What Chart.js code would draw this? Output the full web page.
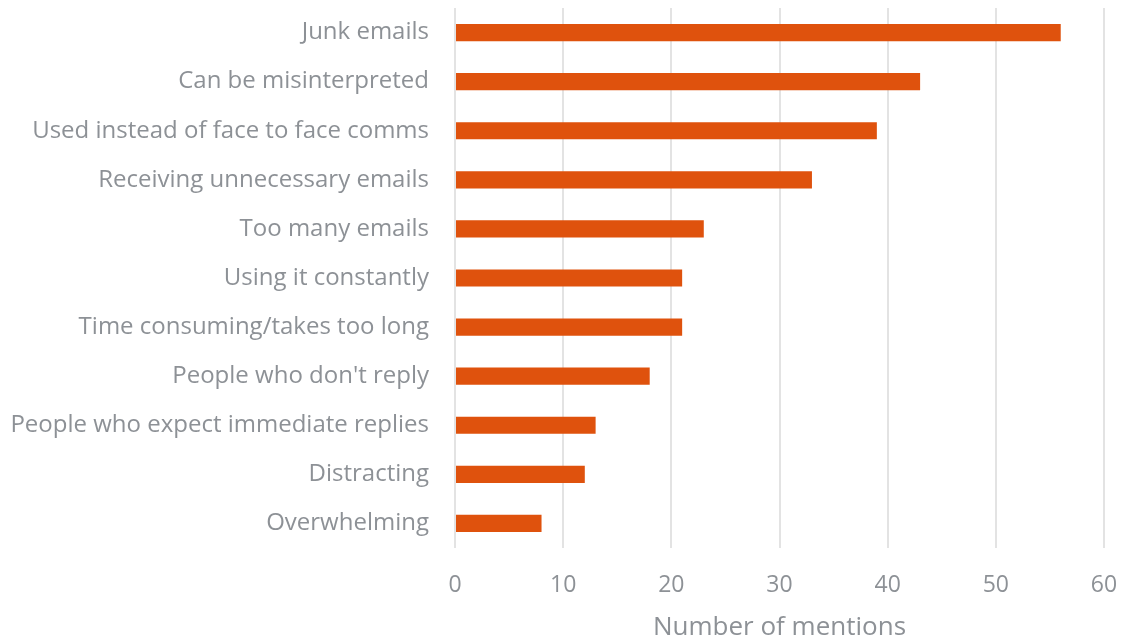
<!DOCTYPE html>
<html lang="en">
<head>
    <meta charset="UTF-8">
    <title>Email frustrations</title>
    <script src="https://cdn.jsdelivr.net/npm/chart.js"></script>
    <style>
        html, body { margin: 0; padding: 0; background: #fff; }
        #wrap { width: 1122px; height: 643px; }
    </style>
</head>
<body>
    <div id="wrap">
        <canvas id="mentionsChart"></canvas>
    </div>
    <script>
        const categories = [
            'Junk emails',
            'Can be misinterpreted',
            'Used instead of face to face comms',
            'Receiving unnecessary emails',
            'Too many emails',
            'Using it constantly',
            'Time consuming/takes too long',
            "People who don't reply",
            'People who expect immediate replies',
            'Distracting',
            'Overwhelming'
        ];
        const mentions = [56, 43, 39, 33, 23, 21, 21, 18, 13, 12, 8];
        const xTicks = [0, 10, 20, 30, 40, 50, 60];

        const grey = '#8d9196';

        const ctx = document.getElementById('mentionsChart').getContext('2d');
        new Chart(ctx, {
            type: 'bar',
            data: {
                labels: categories,
                datasets: [{
                    label: 'Number of mentions',
                    data: mentions,
                    backgroundColor: '#df520d',
                    categoryPercentage: 1,
                    barPercentage: 0.35
                }]
            },
            options: {
                indexAxis: 'y',
                responsive: true,
                maintainAspectRatio: false,
                animation: false,
                layout: { padding: { top: 8, right: 18, left: 0, bottom: 0 } },
                plugins: {
                    legend: { display: false },
                    tooltip: { enabled: false }
                },
                scales: {
                    x: {
                        min: xTicks[0],
                        max: xTicks[xTicks.length - 1],
                        afterBuildTicks: axis => {
                            axis.ticks = xTicks.map(v => ({ value: v }));
                        },
                        afterFit: axis => {
                            axis.height = 95;
                            // keep the label overhang from shrinking the plot
                            axis.paddingLeft = 0;
                            axis.paddingRight = 0;
                        },
                        border: { display: false },
                        grid: {
                            color: '#e3e3e3',
                            lineWidth: 2,
                            drawTicks: false
                        },
                        ticks: {
                            color: grey,
                            font: { family: 'Open Sans', size: 23 },
                            padding: 24
                        },
                        title: {
                            display: true,
                            text: 'Number of mentions',
                            color: grey,
                            font: { family: 'Open Sans', size: 26 },
                            padding: { top: 0, bottom: 0 }
                        }
                    },
                    y: {
                        afterFit: axis => {
                            axis.width = 455;
                            axis.paddingTop = 0;
                            axis.paddingBottom = 0;
                        },
                        border: { display: false },
                        grid: { display: false },
                        ticks: {
                            color: grey,
                            font: { family: 'Open Sans', size: 24 },
                            padding: 18,
                            autoSkip: false
                        }
                    }
                }
            }
        });
    </script>
</body>
</html>
